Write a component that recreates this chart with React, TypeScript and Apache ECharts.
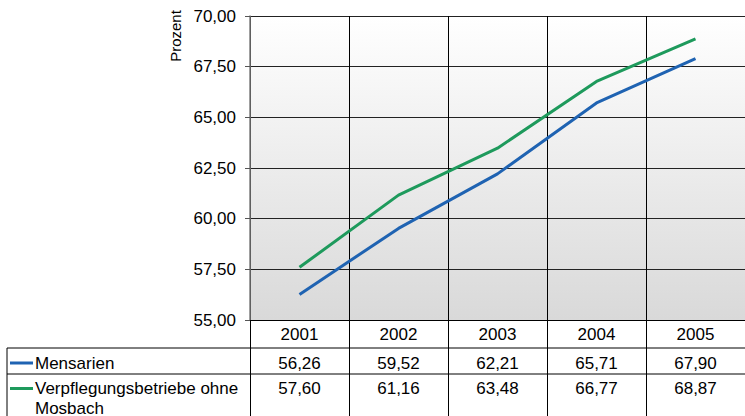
import React, { useEffect, useRef } from "react";
import * as echarts from "echarts";

// Years shown on the category axis and in the table header
const years = ["2001", "2002", "2003", "2004", "2005"];

// Share in percent per year
const mensarien = [56.26, 59.52, 62.21, 65.71, 67.9];
const verpflegung = [57.6, 61.16, 63.48, 66.77, 68.87];

const seriesNames = ["Mensarien", "Verpflegungsbetriebe ohne\nMosbach"];
const seriesColors = ["#1f63b2", "#1e9a5c"];

// Value axis range
const yMin = 55;
const yMax = 70;
const yStep = 2.5;

const FONT = '"Liberation Sans", Arial, sans-serif';
const fmt = (v: number) => v.toFixed(2).replace(".", ",");

export default function App() {
  const ref = useRef<HTMLDivElement>(null);

  useEffect(() => {
    if (!ref.current) return;
    const chart = echarts.init(ref.current, undefined, { renderer: "svg" });
    const allSeries = [mensarien, verpflegung];

    chart.setOption({
      animation: false,
      backgroundColor: "#ffffff",
      grid: {
        left: 250,
        top: 16,
        width: 502,
        height: 304,
        show: true,
        borderWidth: 0,
        backgroundColor: new echarts.graphic.LinearGradient(0, 0, 0, 1, [
          { offset: 0, color: "#ffffff" },
          { offset: 1, color: "#d9d9d9" },
        ]),
      },
      xAxis: {
        type: "category",
        data: years,
        boundaryGap: true,
        axisLine: { show: true, lineStyle: { color: "#000", width: 1 } },
        axisTick: {
          show: true,
          alignWithLabel: false,
          inside: false,
          length: 96,
          lineStyle: { color: "#000", width: 1 },
        },
        axisLabel: {
          color: "#000",
          fontSize: 17,
          fontFamily: FONT,
          margin: 14,
          verticalAlign: "middle",
        },
        splitLine: { show: true, lineStyle: { color: "#000", width: 1 } },
      },
      yAxis: {
        type: "value",
        min: yMin,
        max: yMax,
        interval: yStep,
        axisLine: { show: true, lineStyle: { color: "#7f7f7f", width: 1.5 } },
        axisTick: { show: true, length: 5, lineStyle: { color: "#555", width: 1 } },
        axisLabel: {
          color: "#000",
          fontSize: 17,
          fontFamily: FONT,
          margin: 14,
          formatter: (v: number) => fmt(v),
        },
        splitLine: { show: true, lineStyle: { color: "#222", width: 1 } },
      },
      series: allSeries.map((data, i) => ({
        type: "line",
        name: seriesNames[i],
        data,
        symbol: "none",
        lineStyle: { color: seriesColors[i], width: 3 },
        itemStyle: { color: seriesColors[i] },
      })),
    });

    // Data table underneath the plot
    const rowTops = [348, 374];
    const rowText = [363, 388.5];
    const elements: any[] = [];

    rowTops.forEach((y) => {
      elements.push({
        type: "line",
        shape: { x1: 7, y1: y, x2: 745, y2: y },
        style: { stroke: "#000", lineWidth: 1 },
      });
    });
    elements.push({
      type: "line",
      shape: { x1: 7, y1: 348, x2: 7, y2: 416 },
      style: { stroke: "#000", lineWidth: 1 },
    });

    allSeries.forEach((data, r) => {
      elements.push({
        type: "line",
        shape: { x1: 10, y1: rowText[r], x2: 33, y2: rowText[r] },
        style: { stroke: seriesColors[r], lineWidth: 3 },
      });
      elements.push({
        type: "text",
        style: {
          text: seriesNames[r],
          x: 35,
          y: rowText[r] - 10,
          font: `17px ${FONT}`,
          lineHeight: 20,
          fill: "#000",
          align: "left",
          verticalAlign: "top",
        },
      });
      data.forEach((v, c) => {
        const cx = chart.convertToPixel({ xAxisIndex: 0 }, c) as number;
        elements.push({
          type: "text",
          style: {
            text: fmt(v),
            x: cx,
            y: rowText[r],
            font: `17px ${FONT}`,
            fill: "#000",
            align: "center",
            verticalAlign: "middle",
          },
        });
      });
    });

    // Axis title
    elements.push({
      type: "text",
      x: 175,
      y: 36,
      rotation: Math.PI / 2,
      style: {
        text: "Prozent",
        x: 0,
        y: 0,
        font: `15px ${FONT}`,
        fill: "#000",
        align: "center",
        verticalAlign: "middle",
      },
    });

    chart.setOption({ graphic: { elements } });

    return () => chart.dispose();
  }, []);

  return (
    <div
      ref={ref}
      style={{ position: "fixed", left: 0, top: 0, width: 745, height: 416 }}
    />
  );
}
